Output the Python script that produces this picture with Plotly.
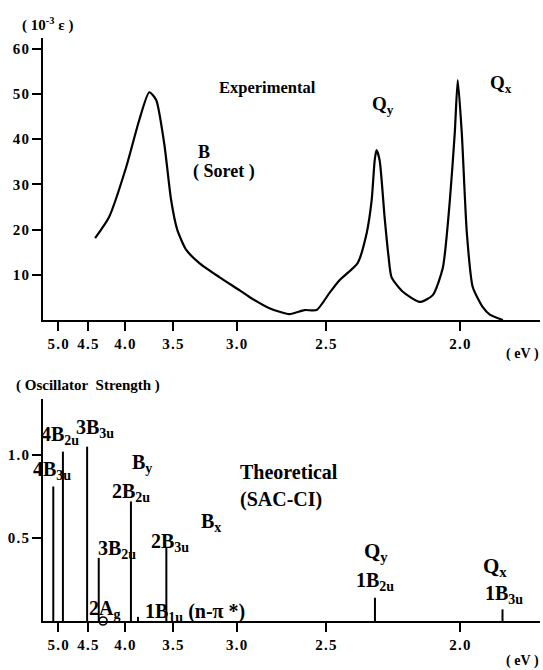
import plotly.graph_objects as go

# ---------------- data ----------------
# Experimental absorption spectrum (energy in eV, 10^-3 epsilon)
exp_energy_ev = [4.392, 4.199, 3.986, 3.837, 3.730, 3.659, 3.580, 3.515, 3.460, 3.381,
                 3.273, 3.121, 2.981, 2.916, 2.794, 2.682, 2.604, 2.544, 2.483, 2.438,
                 2.360, 2.323, 2.303, 2.291, 2.284, 2.272, 2.253, 2.238, 2.227, 2.187,
                 2.127, 2.084, 2.052, 2.030, 2.015, 2.006, 1.994, 1.979, 1.962, 1.934,
                 1.914, 1.879]
exp_epsilon = [18.1, 22.8, 33.8, 44.2, 50.4, 48.7, 39.0, 26.5, 20.0, 15.5,
               12.6, 9.5, 6.6, 5.1, 2.6, 1.3, 2.2, 2.2, 6.0, 8.8,
               12.6, 19.2, 26.5, 35.4, 37.6, 35.4, 22.8, 14.0, 9.5, 6.3,
               4.0, 5.5, 11.5, 26.5, 41.4, 53.1, 41.4, 19.2, 7.3, 2.9,
               1.2, 0.0]

# Theoretical (SAC-CI) transitions
state_names = ["4B3u", "4B2u", "3B3u", "3B2u", "2B2u", "1B1u", "2B3u", "1B2u", "1B3u"]
state_energy_ev = [5.09, 4.91, 4.51, 4.34, 3.93, 3.85, 3.56, 2.29, 1.88]
osc_strength = [0.81, 1.02, 1.05, 0.38, 0.72, 0.025, 0.44, 0.14, 0.07]
forbidden_energy_ev = [4.28]   # 2Ag (f = 0)
forbidden_strength = [0.0]

tick_ev = [5.0, 4.5, 4.0, 3.5, 3.0, 2.5, 2.0]
tick_labels = ["5.0", "4.5", "4.0", "3.5", "3.0", "2.5", "2.0"]
top_y_ticks = [10, 20, 30, 40, 50, 60]
top_y_labels = ["10", "20", "30", "40", "50", "60"]
bot_y_ticks = [0.5, 1.0]
bot_y_labels = ["0.5", "1.0"]

# the energy axis is drawn linear in wavelength (nm = 1240 / eV)
def to_nm(e):
    return 1240.0 / e

def spaced(s):
    return "\u200a".join(s)

# ---------------- figure ----------------
W, H = 543, 670
ML, MR, MT, MB = 43, 3, 38, 49
PW, PH = W - ML - MR, H - MT - MB
FONT = "Liberation Serif"

fig = go.Figure()

fig.add_trace(go.Scatter(
    x=[to_nm(e) for e in exp_energy_ev], y=exp_epsilon,
    mode="lines", line=dict(color="black", width=2.2, shape="spline", smoothing=0.6),
    xaxis="x", yaxis="y", showlegend=False, hoverinfo="skip"))

sx, sy = [], []
for e, f in zip(state_energy_ev, osc_strength):
    sx += [to_nm(e), to_nm(e), None]
    sy += [0, f, None]
fig.add_trace(go.Scatter(
    x=sx, y=sy, mode="lines", line=dict(color="black", width=2),
    xaxis="x2", yaxis="y2", showlegend=False, hoverinfo="skip"))

fig.add_trace(go.Scatter(
    x=[to_nm(e) for e in forbidden_energy_ev], y=forbidden_strength,
    mode="markers", marker=dict(symbol="circle-open", size=8, color="black",
                                line=dict(width=1.6)),
    xaxis="x2", yaxis="y2", showlegend=False, hoverinfo="skip", cliponaxis=False))

xr = [234.1, 694.3]
tick_nm = [to_nm(e) for e in tick_ev]
axis_common = dict(showline=True, linecolor="black", linewidth=2, ticks="outside",
                   ticklen=9, tickwidth=2, tickcolor="black", showgrid=False,
                   zeroline=False, tickfont=dict(family=FONT, size=15, color="black",
                                                  weight="bold"))

top_dom = [1 - (320 - MT) / PH, 1]
bot_dom = [0, 1 - (399 - MT) / PH]

fig.update_layout(
    width=W, height=H, margin=dict(l=ML, r=MR, t=MT, b=MB),
    paper_bgcolor="white", plot_bgcolor="white",
    xaxis=dict(domain=[0, 1], range=xr, anchor="y", tickvals=tick_nm,
               ticktext=[spaced(t) for t in tick_labels], **axis_common),
    yaxis=dict(domain=top_dom, range=[0, 62.4], anchor="x", tickvals=top_y_ticks,
               ticktext=[spaced(t) for t in top_y_labels], **axis_common),
    xaxis2=dict(domain=[0, 1], range=xr, anchor="y2", tickvals=tick_nm,
                ticktext=[spaced(t) for t in tick_labels], **axis_common),
    yaxis2=dict(domain=bot_dom, range=[0, 1.337], anchor="x2", tickvals=bot_y_ticks,
                ticktext=[spaced(t) for t in bot_y_labels], **axis_common),
)

def px(x, y):
    return (x - ML) / PW, 1 - (y - MT) / PH

def label(text, x, y, size=17, xanchor="center"):
    ax, ay = px(x, y)
    fig.add_annotation(text="<b>" + text + "</b>", x=ax, y=ay, xref="paper",
                       yref="paper", showarrow=False, xanchor=xanchor,
                       yanchor="middle",
                       font=dict(family=FONT, size=size, color="black"))

NB = "\u00a0"
# top panel texts
label("(" + NB + "10<sup>-3</sup>" + NB + "ε" + NB + ")", 47, 24, size=15)
label("Experimental", 267, 88, size=16.5)
label("Q<sub>y</sub>", 383, 105, size=19)
label("Q<sub>x</sub>", 501, 84, size=19)
label("B", 204, 152, size=18)
label("(" + NB + "Soret" + NB + ")", 224, 171, size=18)
label("(" + NB + "eV" + NB + ")", 541, 354, size=14, xanchor="right")

# bottom panel texts
label("(" + NB + "Oscillator" + NB + NB + "Strength" + NB + ")", 88, 385, size=15)
label("4B<sub>2u</sub>", 60, 435, size=20)
label("3B<sub>3u</sub>", 95, 428, size=20)
label("4B<sub>3u</sub>", 52, 470, size=20)
label("B<sub>y</sub>", 142, 463, size=20)
label("2B<sub>2u</sub>", 131, 492, size=20)
label("Theoretical", 238, 472, size=20, xanchor="left")
label("(SAC-CI)", 238, 499, size=20, xanchor="left")
label("B<sub>x</sub>", 211, 522, size=20)
label("3B<sub>2u</sub>", 117, 549, size=20)
label("2B<sub>3u</sub>", 170, 542, size=20)
label("2A<sub>g</sub>", 104, 609, size=20)
label("1B<sub>1u</sub>" + NB + "(n-π" + NB + "*)", 195, 612, size=20)
label("Q<sub>y</sub>", 376, 552, size=21)
label("1B<sub>2u</sub>", 375, 581, size=20)
label("Q<sub>x</sub>", 495, 567, size=21)
label("1B<sub>3u</sub>", 504, 594, size=20)
label("(" + NB + "eV" + NB + ")", 541, 661, size=14, xanchor="right")

fig.write_html("out.html", config={"displayModeBar": False},
               post_script="document.body.style.margin='0';")
